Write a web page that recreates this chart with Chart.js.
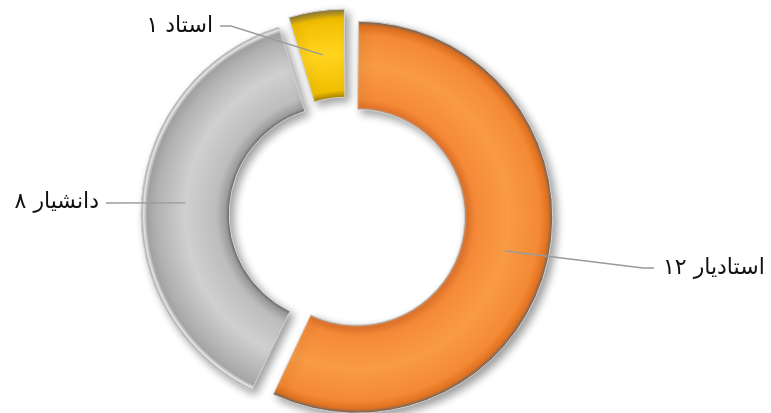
<!DOCTYPE html>
<html>
<head>
<meta charset="utf-8">
<script src="https://cdn.jsdelivr.net/npm/chart.js@4"></script>
<style>
  html, body { margin: 0; padding: 0; background: #fff; }
  #wrap { width: 771px; height: 413px; }
</style>
</head>
<body>
<div id="wrap"><canvas id="myChart" width="771" height="413"></canvas></div>
<script>
// ranks and counts
const categories = ['استادیار', 'دانشیار', 'استاد'];
const counts = [12, 8, 1];

// radial colour stops (inner edge -> outer edge) per slice, for the bevel look
const bevels = [
  [[0, '#b8a290'], [0.03, '#e5752a'], [0.12, '#f58a38'], [0.5, '#f99a44'], [0.85, '#f48a35'], [0.95, '#e27220'], [1, '#666666']],
  [[0, '#6a6a6a'], [0.04, '#9c9c9c'], [0.15, '#bdbdbd'], [0.5, '#d0d0d0'], [0.8, '#b4b4b4'], [0.93, '#a6a6a6'], [0.97, '#ececec'], [1, '#9a9a9a']],
  [[0, '#a88400'], [0.08, '#f2bf00'], [0.5, '#ffd41f'], [0.9, '#f1bd00'], [1, '#857440']]
];

// where each leader line bends and where the text sits
const callouts = [
  { bend: [643, 268], end: [654, 268], textX: 663, align: 'left', textY: 268 },
  { bend: [106, 203], end: [106, 203], textX: 99, align: 'right', textY: 202 },
  { bend: [231, 26], end: [220, 26], textX: 213, align: 'right', textY: 26 }
];

const RADIUS = 196;
const CUTOUT = 0.55;
const SHIFT = 10; // how far each slice is pulled out, px

function faDigits(n) {
  return String(n).replace(/[0-9]/g, d => '۰۱۲۳۴۵۶۷۸۹'[d]);
}

function ringFill(context) {
  const chart = context.chart;
  const area = chart.chartArea;
  const stops = bevels[context.dataIndex];
  if (!area) return stops[2][1];
  const cx = (area.left + area.right) / 2;
  const cy = (area.top + area.bottom) / 2;
  const g = chart.ctx.createRadialGradient(cx, cy, RADIUS * CUTOUT, cx, cy, RADIUS);
  stops.forEach(s => g.addColorStop(s[0], s[1]));
  return g;
}

// chart.js also grows the radius of an offset arc; take that back so slices just slide out
const pullOutPlugin = {
  id: 'pullOut',
  afterDatasetsUpdate(chart) {
    chart.getDatasetMeta(0).data.forEach(arc => {
      const t = (arc.options.offset || 0) / 4;
      const fix = 1 - Math.sin(Math.min(Math.PI, arc.circumference));
      arc.outerRadius -= t * fix;
      arc.innerRadius -= t * fix;
    });
  }
};

const shadowPlugin = {
  id: 'shadow',
  beforeDatasetsDraw(chart) {
    const ctx = chart.ctx;
    ctx.save();
    ctx.shadowColor = 'rgba(0,0,0,0.38)';
    ctx.shadowBlur = 9;
    ctx.shadowOffsetX = 4;
    ctx.shadowOffsetY = 4;
  },
  afterDatasetsDraw(chart) {
    chart.ctx.restore();
  }
};

const calloutPlugin = {
  id: 'callouts',
  afterDraw(chart) {
    const ctx = chart.ctx;
    const meta = chart.getDatasetMeta(0);
    meta.data.forEach((arc, i) => {
      const c = callouts[i];
      const mid = (arc.startAngle + arc.endAngle) / 2;
      const r = RADIUS * (1 + CUTOUT) / 2 + SHIFT;
      const ax = arc.x + Math.cos(mid) * r;
      const ay = arc.y + Math.sin(mid) * r;
      ctx.save();
      ctx.strokeStyle = '#9a9a9a';
      ctx.lineWidth = 1.4;
      ctx.beginPath();
      ctx.moveTo(ax, ay);
      ctx.lineTo(c.bend[0], c.bend[1]);
      ctx.lineTo(c.end[0], c.end[1]);
      ctx.stroke();
      ctx.fillStyle = '#111';
      ctx.font = '22px "DejaVu Sans", sans-serif';
      ctx.direction = 'rtl';
      ctx.textAlign = c.align;
      ctx.textBaseline = 'middle';
      ctx.fillText(categories[i] + ' ' + faDigits(counts[i]), c.textX, c.textY);
      ctx.restore();
    });
  }
};

new Chart(document.getElementById('myChart'), {
  type: 'doughnut',
  data: {
    labels: categories,
    datasets: [{
      data: counts,
      backgroundColor: ringFill,
      borderColor: '#d2d2d2',
      borderWidth: 1,
      offset: SHIFT * 4,
      radius: RADIUS,
      cutout: (CUTOUT * 100) + '%'
    }]
  },
  options: {
    responsive: false,
    animation: false,
    layout: { padding: { left: 0, right: 77, top: 17, bottom: 0 } },
    plugins: {
      legend: { display: false },
      tooltip: { enabled: false }
    }
  },
  plugins: [pullOutPlugin, shadowPlugin, calloutPlugin]
});
</script>
</body>
</html>
